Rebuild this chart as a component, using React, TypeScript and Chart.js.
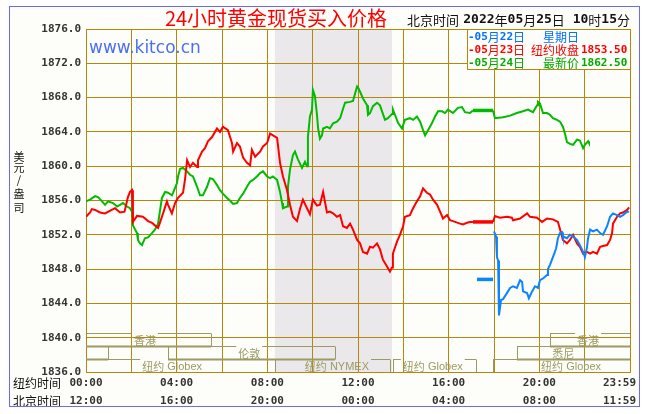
import React, { useEffect, useRef } from "react";
import { Chart, registerables } from "chart.js";
Chart.register(...registerables);

// ---------- data ----------
const yMin = 1836;
const yMax = 1876;
const yStep = 4;
const xTickHours = [0, 4, 8, 12, 16, 20, 24];
const nyTimeLabels = ["00:00", "04:00", "08:00", "12:00", "16:00", "20:00", "23:59"];
const bjTimeLabels = ["12:00", "16:00", "20:00", "00:00", "04:00", "08:00", "11:59"];

const legendDates = ["-05月22日", "-05月23日", "-05月24日"];
const legendNames = ["星期日", "纽约收盘", "最新价"];
const legendValues = ["", "1853.50", "1862.50"];

const nymexShade = [8.333, 13.5];

// [NY hour, price]
const may23Red: [number, number][] = [
  [0.0, 1854.1], [0.18, 1854.6], [0.26, 1855.0], [0.4, 1854.9], [0.62, 1854.6], [0.84, 1854.5], [1.05, 1854.8], [1.28, 1855.1],
  [1.5, 1854.6], [1.7, 1854.7], [1.85, 1856.4], [1.94, 1857.0], [2.03, 1857.2], [2.07, 1853.5], [2.25, 1854.2], [2.51, 1854.1],
  [2.74, 1853.6], [2.91, 1853.4], [3.04, 1853.1], [3.18, 1852.8], [3.26, 1853.4], [3.4, 1854.5], [3.57, 1855.9], [3.62, 1855.5],
  [3.79, 1854.5], [3.93, 1855.7], [4.06, 1856.3], [4.28, 1856.9], [4.37, 1858.5], [4.46, 1860.7], [4.59, 1859.9], [4.72, 1860.4],
  [4.9, 1859.9], [4.94, 1860.7], [5.12, 1861.7], [5.25, 1862.1], [5.38, 1862.9], [5.56, 1863.4], [5.78, 1864.4], [5.91, 1864.0],
  [6.04, 1864.6], [6.26, 1864.2], [6.44, 1862.7], [6.49, 1861.7], [6.66, 1862.7], [6.79, 1862.3], [6.93, 1861.0], [7.1, 1860.4],
  [7.24, 1860.1], [7.32, 1861.9], [7.46, 1861.1], [7.68, 1861.7], [7.81, 1862.3], [7.99, 1862.7], [8.12, 1863.8], [8.25, 1863.6],
  [8.43, 1863.3], [8.56, 1860.4], [8.69, 1858.8], [8.87, 1857.2], [9.0, 1855.5], [9.13, 1854.1], [9.31, 1853.6], [9.44, 1855.0],
  [9.57, 1856.1], [9.75, 1855.1], [9.88, 1854.4], [10.01, 1856.1], [10.19, 1855.4], [10.32, 1855.5], [10.46, 1857.0], [10.63, 1854.6],
  [10.76, 1854.7], [10.9, 1854.5], [11.07, 1854.1], [11.21, 1854.3], [11.34, 1853.0], [11.51, 1852.8], [11.65, 1853.3], [11.78, 1852.6],
  [11.96, 1851.4], [12.09, 1851.0], [12.22, 1850.0], [12.4, 1849.8], [12.53, 1850.6], [12.66, 1850.5], [12.84, 1851.0], [12.97, 1850.3],
  [13.1, 1849.1], [13.28, 1848.3], [13.41, 1847.7], [13.5, 1848.2], [13.54, 1849.8], [13.72, 1851.2], [13.85, 1852.0], [13.99, 1853.0],
  [14.07, 1854.1], [14.29, 1854.3], [14.43, 1855.1], [14.6, 1855.9], [14.74, 1856.5], [14.87, 1857.4], [15.04, 1856.9], [15.18, 1856.7],
  [15.31, 1856.1], [15.49, 1855.5], [15.62, 1854.7], [15.75, 1853.9], [15.93, 1854.3], [16.06, 1853.7], [16.19, 1853.6], [16.5, 1853.3],
  [16.63, 1853.2], [16.81, 1853.4], [16.94, 1853.5], [17.07, 1853.5], [17.96, 1853.5], [18.04, 1854.2], [18.26, 1854.0], [18.57, 1854.1],
  [18.79, 1854.0], [18.84, 1853.7], [19.15, 1853.9], [19.46, 1854.5], [19.59, 1854.1], [19.9, 1854.0], [20.12, 1853.5], [20.34, 1853.9],
  [20.6, 1853.8], [20.82, 1853.5], [20.96, 1852.2], [21.04, 1851.4], [21.22, 1851.0], [21.35, 1851.4], [21.49, 1852.0], [21.66, 1851.0],
  [21.79, 1850.6], [21.93, 1849.8], [22.1, 1850.0], [22.24, 1849.8], [22.37, 1850.0], [22.54, 1849.8], [22.68, 1850.6], [22.81, 1850.7],
  [22.99, 1850.8], [23.12, 1851.4], [23.21, 1852.2], [23.25, 1853.3], [23.43, 1854.1], [23.56, 1854.5], [23.69, 1854.6], [23.87, 1854.9],
  [23.96, 1855.2],
];

const may24Green: [number, number][] = [
  [0.0, 1855.9], [0.18, 1856.1], [0.4, 1856.5], [0.53, 1856.4], [0.71, 1855.9], [0.84, 1855.5], [0.97, 1855.9], [1.19, 1855.7],
  [1.37, 1855.3], [1.5, 1855.5], [1.63, 1855.7], [1.81, 1855.3], [1.94, 1855.1], [2.03, 1854.7], [2.07, 1853.1], [2.25, 1852.2],
  [2.29, 1851.4], [2.38, 1851.0], [2.47, 1850.8], [2.6, 1851.6], [2.74, 1851.7], [2.91, 1852.2], [3.04, 1852.6], [3.18, 1853.3],
  [3.35, 1856.3], [3.49, 1857.0], [3.62, 1856.9], [3.79, 1856.6], [3.84, 1856.9], [4.01, 1858.0], [4.06, 1858.8], [4.15, 1859.7],
  [4.28, 1859.8], [4.46, 1859.4], [4.59, 1859.0], [4.72, 1858.8], [4.9, 1857.6], [5.03, 1856.6], [5.16, 1856.6], [5.34, 1857.6],
  [5.47, 1858.6], [5.6, 1858.5], [5.78, 1857.8], [5.91, 1857.2], [6.04, 1856.8], [6.22, 1856.3], [6.35, 1856.0], [6.49, 1855.6],
  [6.66, 1855.7], [6.79, 1856.3], [6.93, 1856.8], [7.1, 1857.6], [7.24, 1858.2], [7.37, 1858.4], [7.54, 1858.8], [7.68, 1859.2],
  [7.81, 1859.4], [7.99, 1858.8], [8.12, 1858.6], [8.25, 1858.8], [8.34, 1858.6], [8.43, 1858.4], [8.56, 1857.0], [8.65, 1855.7],
  [8.69, 1855.1], [8.87, 1855.3], [8.91, 1857.6], [9.0, 1859.6], [9.13, 1861.3], [9.22, 1861.7], [9.35, 1860.8], [9.53, 1859.8],
  [9.66, 1860.5], [9.75, 1860.0], [9.79, 1863.4], [9.88, 1865.8], [9.97, 1866.6], [10.01, 1868.9], [10.1, 1868.2], [10.19, 1866.0],
  [10.24, 1864.4], [10.32, 1863.2], [10.41, 1863.6], [10.46, 1864.4], [10.63, 1864.6], [10.76, 1864.4], [10.9, 1865.0], [11.07, 1865.2],
  [11.21, 1865.6], [11.34, 1866.7], [11.43, 1867.4], [11.65, 1867.5], [11.78, 1867.6], [11.96, 1869.3], [12.0, 1869.2], [12.09, 1868.7],
  [12.22, 1867.9], [12.4, 1867.1], [12.44, 1866.0], [12.53, 1866.2], [12.66, 1867.0], [12.84, 1867.4], [12.97, 1867.1], [13.06, 1866.4],
  [13.19, 1865.4], [13.32, 1865.6], [13.5, 1866.1], [13.54, 1866.6], [13.63, 1866.0], [13.76, 1865.1], [13.94, 1864.4], [14.07, 1865.4],
  [14.29, 1865.6], [14.43, 1865.4], [14.6, 1865.8], [14.74, 1865.2], [14.87, 1864.2], [14.96, 1863.6], [15.09, 1864.2], [15.26, 1865.0],
  [15.4, 1865.8], [15.53, 1866.4], [15.71, 1866.4], [15.84, 1866.2], [15.97, 1866.6], [16.19, 1866.2], [16.41, 1866.8], [16.59, 1866.9],
  [16.72, 1866.3], [16.94, 1866.2], [17.07, 1866.5], [17.96, 1866.5], [18.04, 1865.6], [18.4, 1865.7], [18.71, 1865.9], [19.01, 1866.2],
  [19.28, 1866.4], [19.5, 1866.6], [19.72, 1866.3], [19.9, 1867.1], [19.94, 1867.5], [20.03, 1867.3], [20.16, 1866.2], [20.34, 1866.2],
  [20.47, 1866.0], [20.6, 1865.6], [20.78, 1865.4], [20.91, 1865.2], [21.04, 1864.6], [21.13, 1863.8], [21.22, 1862.8], [21.35, 1862.6],
  [21.49, 1862.5], [21.66, 1863.1], [21.79, 1863.0], [21.93, 1862.1], [22.01, 1862.5], [22.15, 1862.9], [22.19, 1862.7],
];

const may22Blue: [number, number | null][] = [
  [17.25, 1846.8], [17.96, 1846.8], [17.98, null], [18.0, 1852.4], [18.09, 1851.8], [18.13, 1849.4], [18.18, 1849.0], [18.22, 1842.6],
  [18.31, 1844.4], [18.4, 1844.5], [18.57, 1845.2], [18.71, 1845.8], [18.84, 1846.0], [19.01, 1845.8], [19.15, 1846.7], [19.24, 1846.5],
  [19.28, 1845.4], [19.46, 1845.2], [19.54, 1844.6], [19.68, 1845.4], [19.81, 1846.0], [19.94, 1845.8], [20.03, 1846.7], [20.16, 1846.9],
  [20.34, 1847.3], [20.38, 1848.0], [20.47, 1848.5], [20.6, 1849.4], [20.74, 1850.4], [20.82, 1851.6], [20.91, 1852.2], [21.0, 1852.3],
  [21.04, 1851.8], [21.22, 1851.6], [21.35, 1852.0], [21.49, 1851.8], [21.66, 1851.4], [21.79, 1850.8], [21.93, 1850.0], [22.01, 1849.4],
  [22.1, 1850.5], [22.15, 1851.6], [22.24, 1852.6], [22.37, 1852.4], [22.54, 1852.6], [22.68, 1852.2], [22.81, 1852.0], [22.99, 1853.0],
  [23.12, 1854.1], [23.25, 1854.5], [23.43, 1854.3], [23.56, 1854.1], [23.69, 1854.3], [23.87, 1854.7], [23.96, 1854.7],
];

// trading sessions (NY hours), rows: 0 = Hong Kong, 1 = London/Sydney, 2 = New York
const sessionRowTops = [1840.55, 1839.0, 1837.5, 1836.0];
const sessions = [
  { name: "香港", from: 0, to: 5.5, row: 0, at: 2.6 },
  { name: "香港", from: 20.47, to: 24, row: 0, at: 22.15 },
  { name: "", from: 0, to: 0.97, row: 1, at: 0 },
  { name: "伦敦", from: 3.62, to: 11.0, row: 1, at: 7.2 },
  { name: "悉尼", from: 19.0, to: 24, row: 1, at: 21.05 },
  { name: "纽约 Globex", from: 0, to: 8.33, row: 2, at: 3.8 },
  { name: "纽约 NYMEX", from: 8.33, to: 13.4, row: 2, at: 11.07 },
  { name: "纽约 Globex", from: 13.55, to: 17.2, row: 2, at: 15.3 },
  { name: "纽约 Globex", from: 17.96, to: 24, row: 2, at: 21.4 },
];

// ---------- styles ----------
const GOLD = "#b8860b";
const OLIVE = "#9c9a62";
const RED = "#ff0000";
const GREEN = "#00bb00";
const BLUE = "#0a84ff";
const MONO = "'DejaVu Sans Mono', monospace";
const CJK = "'Noto Sans CJK SC', sans-serif";
const LATIN_SMALL = "11px 'Liberation Sans', sans-serif";

function measureMixed(ctx: CanvasRenderingContext2D, text: string, latinFont: string, cjkFont: string) {
  const runs = text.match(/[\x00-\x7f]+|[^\x00-\x7f]+/g) || [];
  return runs.map((r) => {
    const f = /^[\x00-\x7f]/.test(r) ? latinFont : cjkFont;
    ctx.font = f;
    return { r, f, w: ctx.measureText(r).width };
  });
}

function mixed(
  ctx: CanvasRenderingContext2D,
  text: string,
  x: number,
  y: number,
  latinFont: string,
  cjkFont: string,
  align: "left" | "center" | "right"
) {
  const parts = measureMixed(ctx, text, latinFont, cjkFont);
  const total = parts.reduce((a, p) => a + p.w, 0);
  let cx = align === "left" ? x : align === "center" ? x - total / 2 : x - total;
  ctx.textAlign = "left";
  ctx.textBaseline = "middle";
  for (const p of parts) {
    ctx.font = p.f;
    ctx.fillText(p.r, cx, y);
    cx += p.w;
  }
  return total;
}

const deco = {
  id: "deco",
  beforeDraw(chart: any) {
    const { ctx, chartArea, scales } = chart;
    ctx.save();
    ctx.fillStyle = "#ffffff";
    ctx.fillRect(0, 0, chart.width, chart.height);
    ctx.fillStyle = "#fdfdf9";
    ctx.fillRect(9, 6, 631, 401);
    const x0 = scales.x.getPixelForValue(nymexShade[0]);
    const x1 = scales.x.getPixelForValue(nymexShade[1]);
    ctx.fillStyle = "#ebe8ec";
    ctx.fillRect(x0, chartArea.top, x1 - x0, chartArea.bottom - chartArea.top);
    ctx.restore();
  },
  afterDraw(chart: any) {
    const { ctx, chartArea, scales } = chart;
    const xs = scales.x;
    const ys = scales.y;
    ctx.save();

    // session bars
    ctx.strokeStyle = OLIVE;
    ctx.fillStyle = OLIVE;
    ctx.lineWidth = 1;
    for (const s of sessions) {
      const px0 = Math.round(xs.getPixelForValue(s.from));
      const px1 = Math.round(xs.getPixelForValue(s.to));
      const yt = Math.round(ys.getPixelForValue(sessionRowTops[s.row])) + 0.5;
      const yb = Math.round(ys.getPixelForValue(sessionRowTops[s.row + 1])) + 0.5;
      let g0 = px1, g1 = px1;
      if (s.name) {
        const lx = xs.getPixelForValue(s.at);
        const tw = measureMixed(ctx, s.name, LATIN_SMALL, `11px ${CJK}`).reduce((a, p) => a + p.w, 0);
        g0 = lx - tw / 2 - 2;
        g1 = lx + tw / 2 + 2;
        mixed(ctx, s.name, lx, (yt + yb) / 2 + 0.5, LATIN_SMALL, `11px ${CJK}`, "center");
      }
      ctx.beginPath();
      ctx.moveTo(px0, yt);
      ctx.lineTo(Math.min(g0, px1), yt);
      if (g1 < px1) {
        ctx.moveTo(g1, yt);
        ctx.lineTo(px1, yt);
      }
      if (s.from > 0) {
        ctx.moveTo(px0 + 0.5, yt);
        ctx.lineTo(px0 + 0.5, yb);
      }
      if (s.to < 24) {
        ctx.moveTo(px1 + 0.5, yt);
        ctx.lineTo(px1 + 0.5, yb);
      }
      ctx.stroke();
      if (s.row < 2) {
        ctx.lineWidth = 2;
        ctx.beginPath();
        ctx.moveTo(px0, yb);
        ctx.lineTo(px1, yb);
        ctx.stroke();
        ctx.lineWidth = 1;
      }
    }

    // title and header
    ctx.fillStyle = "#ff0000";
    ctx.font = `20px ${CJK}`;
    ctx.textAlign = "center";
    ctx.textBaseline = "middle";
    ctx.fillText("24小时黄金现货买入价格", 276, 18);

    ctx.fillStyle = "#111";
    ctx.font = `13px ${CJK}`;
    ctx.textAlign = "left";
    ctx.fillText("北京时间", 407, 20);
    mixed(ctx, "2022年05月25日 10时15分", 630, 20, `bold 13px ${MONO}`, `13px ${CJK}`, "right");

    // watermark url
    ctx.fillStyle = "#4a70f0";
    ctx.font = "17px 'DejaVu Sans', sans-serif";
    ctx.textAlign = "left";
    ctx.textBaseline = "alphabetic";
    ctx.fillText("www.kitco.cn", 89, 53);

    // y axis title
    ctx.fillStyle = "#111";
    ctx.font = `11px ${CJK}`;
    ctx.textAlign = "center";
    ctx.textBaseline = "middle";
    const yt = ["美", "元", "/", "盎", "司"];
    const yy = [157, 168, 180, 194, 208];
    yt.forEach((c, i) => ctx.fillText(c, 19, yy[i]));

    // x labels
    ctx.fillStyle = "#111";
    ctx.font = `12px ${CJK}`;
    ctx.textAlign = "left";
    ctx.fillText("纽约时间", 13, 383);
    ctx.fillText("北京时间", 13, 401);
    ctx.fillStyle = "#333";
    ctx.font = `bold 11px ${MONO}`;
    xTickHours.forEach((h, i) => {
      const px = xs.getPixelForValue(h);
      [nyTimeLabels[i], bjTimeLabels[i]].forEach((t, r) => {
        const w = ctx.measureText(t).width;
        let left = px - w / 2;
        if (left + w > 636) left = 636 - w;
        ctx.textAlign = "left";
        ctx.fillText(t, left, r === 0 ? 383 : 401);
      });
    });

    // legend box
    const lx0 = chartArea.right - 163;
    const ly0 = chartArea.top;
    ctx.fillStyle = "#fdfdf9";
    ctx.fillRect(lx0, ly0, 163, 40);
    ctx.strokeStyle = GOLD;
    ctx.lineWidth = 1;
    ctx.strokeRect(Math.round(lx0) + 0.5, Math.round(ly0) + 0.5, 163, 40);
    const colors = ["#0070ff", "#ff0000", "#00aa00"];
    const rowsY = [37, 50, 63];
    for (let i = 0; i < 3; i++) {
      ctx.fillStyle = colors[i];
      mixed(ctx, legendDates[i], lx0 + 1, rowsY[i], `bold 11px ${MONO}`, `12px ${CJK}`, "left");
      mixed(ctx, legendNames[i], lx0 + 112, rowsY[i], `bold 11px ${MONO}`, `12px ${CJK}`, "right");
      if (legendValues[i]) mixed(ctx, legendValues[i], lx0 + 114, rowsY[i], `bold 11px ${MONO}`, `12px ${CJK}`, "left");
    }

    // outer frame
    ctx.strokeStyle = "#6b6bef";
    ctx.lineWidth = 1;
    ctx.strokeRect(9.5, 6.5, 630, 400);
    ctx.restore();
  },
};

export default function App() {
  const ref = useRef<HTMLCanvasElement>(null);
  useEffect(() => {
    const canvas = ref.current!;
    const toPts = (s: [number, number | null][]) => s.map(([x, y]) => ({ x, y }));
    const closed = (w: number) => (c: any) => (c.p0.parsed.x >= 16.99 && c.p1.parsed.x <= 18.0 ? 3.5 : w);
    const line = (label: string, data: [number, number | null][], color: string) => ({
      label,
      data: toPts(data),
      borderColor: color,
      backgroundColor: color,
      borderWidth: 2,
      pointRadius: 0,
      tension: 0,
      spanGaps: false,
      fill: false,
      segment: { borderWidth: closed(2) },
    });
    const chart = new Chart(canvas, {
      type: "line",
      data: {
        datasets: [
          line("05月22日", may22Blue, BLUE),
          line("05月23日", may23Red, RED),
          line("05月24日", may24Green, GREEN),
        ] as any,
      },
      options: {
        responsive: false,
        animation: false,
        devicePixelRatio: 1,
        layout: { padding: { left: 8, right: 15, top: 29, bottom: 42 } },
        plugins: { legend: { display: false }, tooltip: { enabled: false } },
        scales: {
          x: {
            type: "linear",
            min: 0,
            max: 24,
            ticks: { stepSize: 2, display: false },
            grid: { color: GOLD, drawTicks: false, lineWidth: 1 },
            border: { color: GOLD },
            afterFit: (s: any) => {
              s.height = 0;
            },
          },
          y: {
            min: yMin,
            max: yMax,
            ticks: {
              stepSize: yStep,
              padding: 5,
              color: "#333",
              font: { family: MONO, size: 11, weight: "bold" },
              callback: (v: any) => Number(v).toFixed(1),
            },
            grid: { color: GOLD, drawTicks: false, lineWidth: 1 },
            border: { color: GOLD },
            afterFit: (s: any) => {
              s.width = 78;
            },
          },
        },
      } as any,
      plugins: [deco],
    });
    return () => chart.destroy();
  }, []);
  return (
    <div style={{ position: "fixed", left: 0, top: 0, width: 645, height: 414 }}>
      <canvas ref={ref} width={645} height={414} style={{ display: "block" }} />
    </div>
  );
}
